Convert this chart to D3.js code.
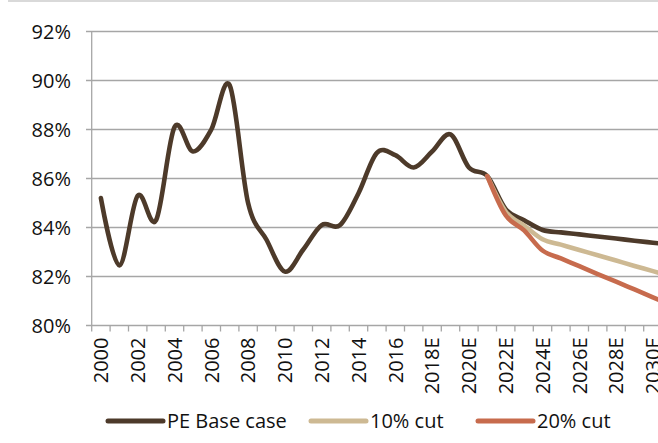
<!DOCTYPE html>
<html>
<head>
<meta charset="utf-8">
<script src="https://cdn.jsdelivr.net/npm/d3@7/dist/d3.min.js"></script>
<style>
  body { margin: 0; background: #fff; }
  text { font-family: "Open Sans", sans-serif; fill: #111; }
</style>
</head>
<body>
<div id="vis"></div>
<script>
var width  = 658;
var height = 443;

// categories 2000..2031 (2018 onwards are estimates)
var years = d3.range(2000, 2032);
var yTicks = [80, 82, 84, 86, 88, 90, 92];

var baseCase = [85.2, 82.45, 85.3, 84.3, 88.1, 87.1, 88.0, 89.8, 85.0, 83.5,
                82.2, 83.1, 84.1, 84.1, 85.4, 87.05, 86.95, 86.45, 87.1, 87.8,
                86.45, 86.1, 84.75, 84.3, 83.9, 83.8, 83.72, 83.63, 83.55, 83.46,
                83.38, 83.3];
// cut scenarios start from 2021
var cut10 = [86.1, 84.65, 84.08, 83.52, 83.3, 83.08, 82.87, 82.65, 82.43, 82.22, 82.0];
var cut20 = [86.1, 84.5, 83.88, 83.06, 82.74, 82.42, 82.1, 81.79, 81.47, 81.15, 80.83];

var colors = { base: "#4d3a2a", c10: "#cdb993", c20: "#c76b4d" };

var x0 = 91.7, step = 18.4;
var x = d3.scaleBand()
  .domain(years)
  .range([x0, x0 + step * years.length])
  .padding(0);
var y = d3.scaleLinear().domain([80, 92]).range([325.5, 31.5]);

var svg = d3.select("#vis").append("svg")
  .attr("width", width)
  .attr("height", height);

// thin grey rule at the top
svg.append("rect")
  .attr("x", 8).attr("y", 0)
  .attr("width", width - 8).attr("height", 2)
  .attr("fill", "#d9d9d9");

// gridlines + y ticks
svg.append("g").selectAll("line")
  .data(yTicks)
  .enter().append("line")
  .attr("x1", 86).attr("x2", width)
  .attr("y1", function(d) { return y(d); })
  .attr("y2", function(d) { return y(d); })
  .attr("stroke", "#a6a6a6")
  .attr("stroke-width", 1.3);

svg.append("g").selectAll("text")
  .data(yTicks)
  .enter().append("text")
  .attr("x", 71)
  .attr("y", function(d) { return y(d); })
  .attr("dy", "0.36em")
  .attr("text-anchor", "end")
  .style("font-size", "20px")
  .text(function(d) { return d + "%"; });

// y axis line
svg.append("line")
  .attr("x1", x0).attr("x2", x0)
  .attr("y1", y(92)).attr("y2", y(80) + 6)
  .attr("stroke", "#a6a6a6").attr("stroke-width", 1.3);

// x ticks at category boundaries
svg.append("g").selectAll("line")
  .data(years)
  .enter().append("line")
  .attr("x1", function(d) { return x(d) + step; })
  .attr("x2", function(d) { return x(d) + step; })
  .attr("y1", y(80)).attr("y2", y(80) + 6)
  .attr("stroke", "#a6a6a6").attr("stroke-width", 1.3);

// x labels, every other year
svg.append("g").selectAll("text")
  .data(years.filter(function(d, i) { return i % 2 === 0; }))
  .enter().append("text")
  .attr("transform", function(d) {
    return "translate(" + (x(d) + step / 2) + "," + (y(80) + 12) + ")rotate(-90)";
  })
  .attr("dy", "0.36em")
  .attr("text-anchor", "end")
  .style("font-size", "20px")
  .text(function(d) { return d >= 2018 ? d + "E" : "" + d; });

var line = d3.line()
  .x(function(d) { return x(d[0]) + step / 2; })
  .y(function(d) { return y(d[1]); })
  .curve(d3.curveCatmullRom.alpha(0));

function pairs(vals, start) {
  return vals.map(function(v, i) { return [start + i, v]; });
}

var series = [
  { name: "PE Base case", color: colors.base, pts: pairs(baseCase, 2000) },
  { name: "10% cut",      color: colors.c10,  pts: pairs(cut10, 2021) },
  { name: "20% cut",      color: colors.c20,  pts: pairs(cut20, 2021) }
];

svg.append("g").selectAll("path")
  .data(series)
  .enter().append("path")
  .attr("d", function(d) { return line(d.pts); })
  .attr("fill", "none")
  .attr("stroke", function(d) { return d.color; })
  .attr("stroke-width", 4.6)
  .attr("stroke-linejoin", "round")
  .attr("stroke-linecap", "round");

// legend
var legendX = [108, 311, 478];
var leg = svg.append("g").selectAll("g")
  .data(series)
  .enter().append("g")
  .attr("transform", function(d, i) { return "translate(" + legendX[i] + ",421)"; });

leg.append("line")
  .attr("x1", 0).attr("x2", 55)
  .attr("stroke", function(d) { return d.color; })
  .attr("stroke-width", 5)
  .attr("stroke-linecap", "round");

leg.append("text")
  .attr("x", 59)
  .attr("y", 7)
  .style("font-size", "20px")
  .text(function(d) { return d.name; });
</script>
</body>
</html>
